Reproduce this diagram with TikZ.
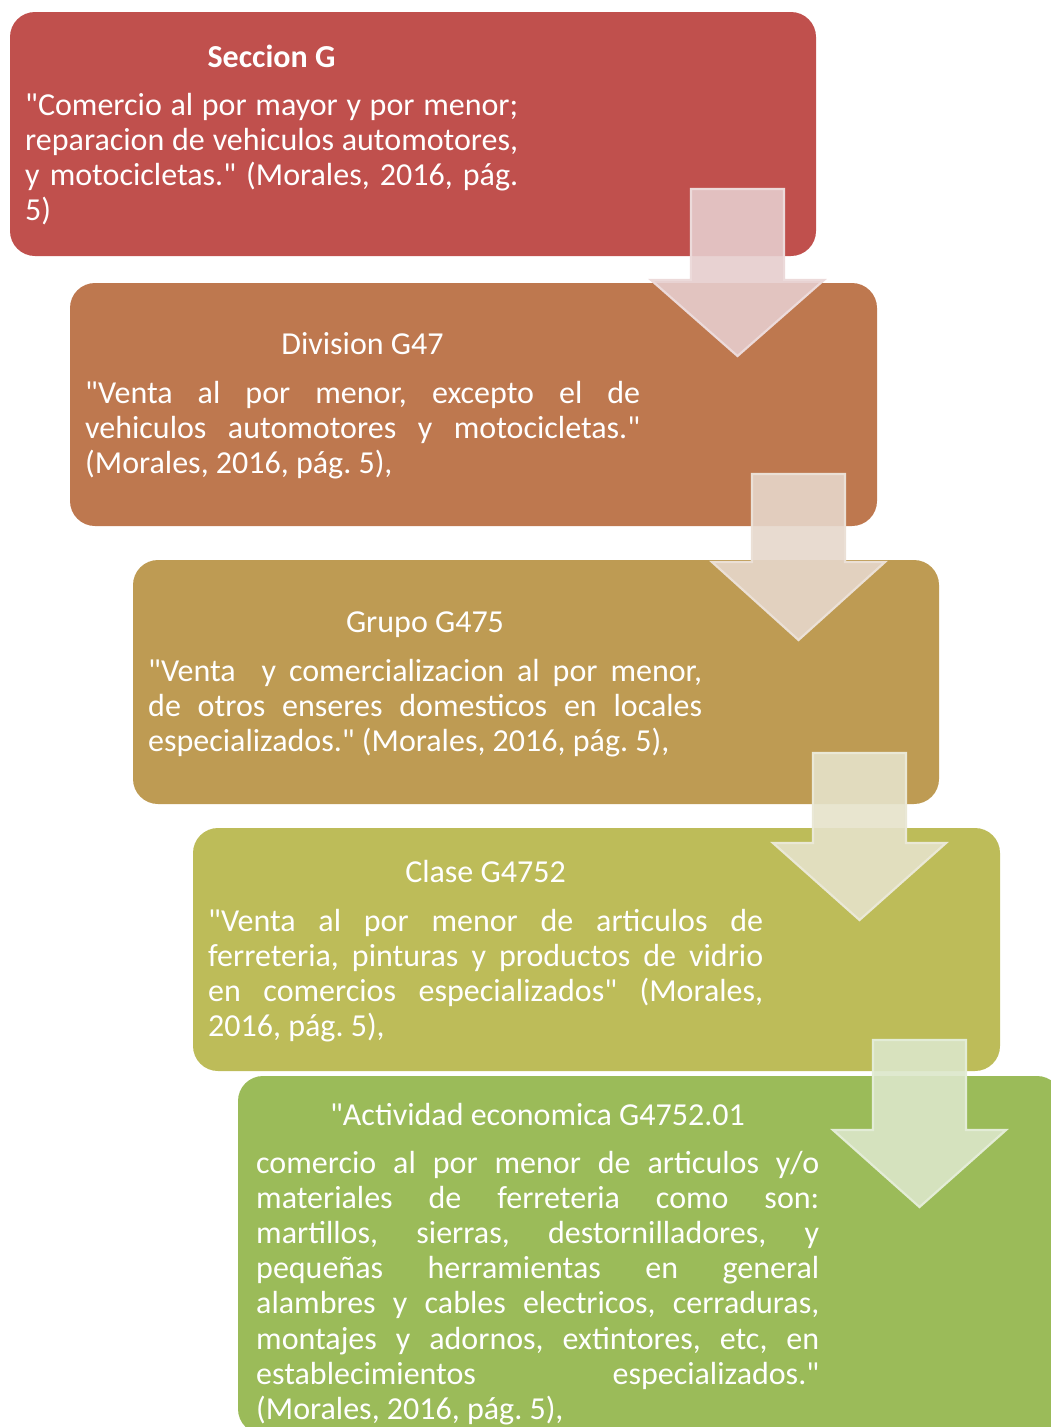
\documentclass[tikz,border=0pt]{standalone}
\usepackage{fontspec}
\setmainfont{Carlito}[Ligatures=TeXOff]
\newcommand\diagfont{\fontsize{32}{35.2}\selectfont}
\tolerance=10000
\hyphenpenalty=10000
\emergencystretch=20pt
\frenchspacing
\definecolor{boxA}{HTML}{C0504D}
\definecolor{boxB}{HTML}{BE784F}
\definecolor{boxC}{HTML}{BE9B53}
\definecolor{boxD}{HTML}{BDBC59}
\definecolor{boxE}{HTML}{9BBB59}
\definecolor{arrA}{HTML}{E6CDCD}
\definecolor{arrB}{HTML}{E6D7CB}
\definecolor{arrC}{HTML}{E5E2CA}
\definecolor{arrD}{HTML}{DCE7CA}
\definecolor{rimA}{HTML}{ECDADA}
\definecolor{rimB}{HTML}{EBE0D6}
\definecolor{rimC}{HTML}{EAE8D6}
\definecolor{rimD}{HTML}{E3ECD6}
\begin{document}
\begin{tikzpicture}[x=1pt,y=-1pt,
  panel/.style={fill=#1, rounded corners=25pt},
  title/.style={anchor=base, inner sep=0pt, text=white, font=\diagfont},
  body/.style={anchor=base west, inner sep=0pt, align=justify, text=white,
    font=\diagfont\frenchspacing, text width=#1},
  blockarrow/.style 2 args={fill=#1, fill opacity=0.9, draw=#2, line width=2.2pt, line join=miter}
]
\useasboundingbox (0,0) rectangle (1051,1427);
\clip (0,0) rectangle (1051,1427);

% level panels
\path[panel=boxA] (10,12) rectangle (816,256);
\path[panel=boxB] (70,283) rectangle (877,526);
\path[panel=boxC] (133,560) rectangle (939,804);
\path[panel=boxD] (193,828) rectangle (1000,1071);
\path[panel=boxE] (238,1076) rectangle (1062,1434);

% Seccion G
\node[title] (t1) at (271.5,67) {\bfseries Seccion G};
\node[body=493pt] (b1) at (25,115) {"Comercio al por mayor y por menor;\linebreak
reparacion de vehiculos automotores,\linebreak
y motocicletas." (Morales, 2016, pág.\linebreak
5)};

% Division G47
\node[title] (t2) at (362.5,354) {Division G47};
\node[body=555pt] (b2) at (85,403) {"Venta al por menor, excepto el de\linebreak
vehiculos automotores y motocicletas."\linebreak
(Morales, 2016, pág. 5),};

% Grupo G475
\node[title] (t3) at (425,632) {Grupo G475};
\node[body=554pt] (b3) at (148,681) {"Venta~ y comercializacion al por menor,\linebreak
de otros enseres domesticos en locales\linebreak
especializados." (Morales, 2016, pág. 5),};

% Clase G4752
\node[title] (t4) at (485.5,882) {Clase G4752};
\node[body=555pt] (b4) at (208,931) {"Venta al por menor de articulos de\linebreak
ferreteria, pinturas y productos de vidrio\linebreak
en comercios especializados" (Morales,\linebreak
2016, pág. 5),};

% Actividad economica G4752.01
\node[title] (t5) at (537.5,1125) {"Actividad economica G4752.01};
\node[body=563pt] (b5) at (256,1173) {comercio al por menor de articulos y/o\linebreak
materiales de ferreteria como son:\linebreak
martillos, sierras, destornilladores, y\linebreak
pequeñas herramientas en general\linebreak
alambres y cables electricos, cerraduras,\linebreak
montajes y adornos, extintores, etc, en\linebreak
establecimientos especializados."\linebreak
(Morales, 2016, pág. 5),};

% downward block arrows between levels
\draw[blockarrow={arrA}{rimA}] (691,189) -- (784,189) -- (784,280) -- (824,280)
  -- (737.5,356) -- (651,280) -- (691,280) -- cycle;
\draw[blockarrow={arrB}{rimB}] (752,474) -- (845,474) -- (845,562) -- (885,562)
  -- (798.5,640) -- (712,562) -- (752,562) -- cycle;
\draw[blockarrow={arrC}{rimC}] (813,753) -- (906,753) -- (906,843) -- (946,843)
  -- (859.5,920) -- (773,843) -- (813,843) -- cycle;
\draw[blockarrow={arrD}{rimD}] (873,1040) -- (966,1040) -- (966,1130) -- (1006,1130)
  -- (919.5,1207) -- (833,1130) -- (873,1130) -- cycle;
\end{tikzpicture}
\end{document}
